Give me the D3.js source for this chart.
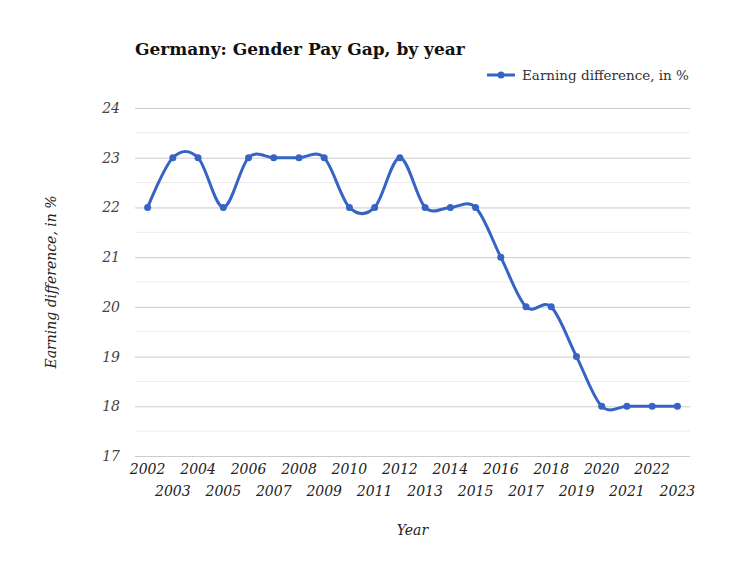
<!DOCTYPE html>
<html>
<head>
<meta charset="utf-8">
<script src="https://cdn.jsdelivr.net/npm/d3@7"></script>
<style>
  body { margin: 0; background: #fff; }
  svg text { font-family: "Roboto Slab", "DejaVu Serif", serif; }
</style>
</head>
<body>
<svg id="chart" width="750" height="563"></svg>
<script>
// data
const years = ["2002", "2003", "2004", "2005", "2006", "2007", "2008", "2009", "2010", "2011", "2012",
  "2013", "2014", "2015", "2016", "2017", "2018", "2019", "2020", "2021", "2022", "2023"]
const gap = [22, 23, 23, 22, 23, 23, 23, 23, 22, 22, 23, 22, 22, 22, 21, 20, 20, 19, 18, 18, 18, 18]
const yTicks = [17, 18, 19, 20, 21, 22, 23, 24]
const seriesName = "Earning difference, in %"

const blue = "#3564c4"
const serif = "'Roboto Slab', 'DejaVu Serif', serif"
const svg = d3.select("#chart")

/* eslint-disable no-multi-spaces */
const margin = {top: 108, right: 60, bottom: 107, left: 135}
const width  = 750 - margin.left - margin.right
const height = 563 - margin.top - margin.bottom
/* eslint-enable no-multi-spaces */

const g = svg.append("g")
    .attr("transform", `translate(${margin.left},${margin.top})`)

const x = d3.scaleBand().domain(years).range([0, width])
const y = d3.scaleLinear().domain([17, 24]).range([height, 0])
const cx = d => x(d) + x.bandwidth() / 2

// minor gridlines at the half steps
g.selectAll(".minor").data(yTicks.slice(0, -1).map(t => t + 0.5))
  .enter().append("line")
    .attr("x1", 0).attr("x2", width)
    .attr("y1", d => y(d)).attr("y2", d => y(d))
    .attr("stroke", "#ececec")

// major gridlines + labels
const yAxis = g.append("g")
    .call(d3.axisLeft(y).tickValues(yTicks).tickFormat(d3.format("d")).tickSize(-width).tickPadding(15))
yAxis.select(".domain").remove()
yAxis.selectAll(".tick line").attr("stroke", "#cccccc")
yAxis.selectAll(".tick text")
    .attr("font-size", 14)
    .attr("font-style", "italic")
    .attr("fill", "#444")
    .attr("font-family", serif)

// x labels, staggered in two rows
const xAxis = g.append("g")
    .attr("transform", `translate(0,${height})`)
    .call(d3.axisBottom(x).tickSize(0))
xAxis.select(".domain").remove()
xAxis.selectAll(".tick text")
    .attr("font-size", 14)
    .attr("font-style", "italic")
    .attr("fill", "#222")
    .attr("font-family", serif)
    .attr("y", (d, i) => (i % 2 === 0 ? 8 : 30))

// the line
const line = d3.line()
    .x((d, i) => cx(years[i]))
    .y(d => y(d))
    .curve(d3.curveCatmullRom.alpha(0))

g.append("path")
    .datum(gap)
    .attr("d", line)
    .attr("fill", "none")
    .attr("stroke", blue)
    .attr("stroke-width", 3)

g.selectAll(".dot").data(gap)
  .enter().append("circle")
    .attr("cx", (d, i) => cx(years[i]))
    .attr("cy", d => y(d))
    .attr("r", 3.5)
    .attr("fill", blue)

// title
svg.append("text")
    .attr("x", 135).attr("y", 55)
    .attr("font-size", 17)
    .attr("font-weight", "bold")
    .attr("fill", "#111")
    .text("Germany: Gender Pay Gap, by year")

// legend
const legend = svg.append("g").attr("transform", "translate(487,75)")
legend.append("line")
    .attr("x1", 0).attr("x2", 28)
    .attr("stroke", blue).attr("stroke-width", 3)
legend.append("circle").attr("cx", 14).attr("r", 3.5).attr("fill", blue)
legend.append("text")
    .attr("x", 35).attr("y", 5)
    .attr("font-size", 13.5)
    .attr("fill", "#333")
    .text(seriesName)

// axis titles
svg.append("text")
    .attr("transform", `translate(56,${margin.top + height / 2}) rotate(-90)`)
    .attr("text-anchor", "middle")
    .attr("font-size", 14)
    .attr("font-style", "italic")
    .attr("fill", "#222")
    .text(seriesName)

svg.append("text")
    .attr("x", margin.left + width / 2).attr("y", 535)
    .attr("text-anchor", "middle")
    .attr("font-size", 14)
    .attr("font-style", "italic")
    .attr("fill", "#222")
    .text("Year")
</script>
</body>
</html>
